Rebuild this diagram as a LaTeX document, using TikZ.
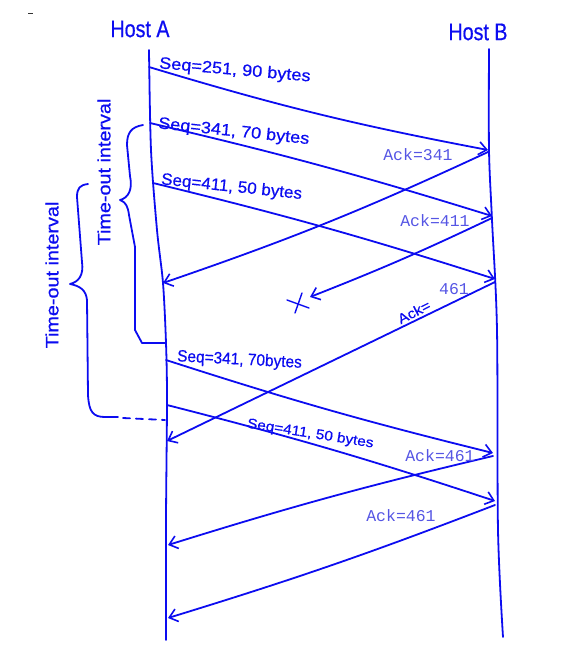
\documentclass[tikz,border=0pt]{standalone}
\usepackage{fontspec}
\usetikzlibrary{arrows.meta}
\newfontfamily\handH[FakeStretch=0.82,FakeBold=0.6]{Liberation Sans}
\newfontfamily\handS[FakeStretch=1.1,FakeBold=0.6]{Liberation Sans}
\newfontfamily\ackmono{Liberation Mono}
\definecolor{handblue}{RGB}{12,12,240}
\definecolor{ackblue}{RGB}{85,85,228}
\tikzset{
  pen/.style={draw=handblue, line width=1.8pt, line cap=round, line join=round},
  msg/.style={pen, -{Straight Barb[length=8pt,width=13pt,line width=1.6pt]}},
  hostlbl/.style={text=handblue, font=\handH\fontsize{24}{26}\selectfont, inner sep=0pt},
  seqlbl/.style={text=handblue, font=\handS\fontsize{16.5}{18}\selectfont, inner sep=0pt},
  smallseq/.style={text=handblue, font=\handS\fontsize{14}{15}\selectfont, inner sep=0pt},
  acklbl/.style={text=ackblue, font=\ackmono\fontsize{16.5}{18}\selectfont, inner sep=0pt},
  toutlbl/.style={text=handblue, font=\handS\fontsize{18}{19}\selectfont, inner sep=0pt, rotate=90}
}
\begin{document}
\begin{tikzpicture}[x=1pt,y=-1pt]
\useasboundingbox (0,0) rectangle (574,646);
% stray mark
\draw[black!80, line width=0.8pt] (28,13) -- (33,13);
% hosts
\node[hostlbl] (hostA) at (140,29) {Host A};
\node[hostlbl] (hostB) at (478,32) {Host B};
% lifeline points
\coordinate (aTop) at (149,50);
\coordinate (aBot) at (166,640);
\coordinate (bTop) at (489,49);
\coordinate (bBot) at (503,637);
\draw[pen] plot[smooth] coordinates {(aTop) (151,150) (157,230) (163,283) (166,343) (167,400) (166,520) (aBot)};
\draw[pen] plot[smooth] coordinates {(bTop) (489,150) (492,220) (497,330) (498,530) (bBot)};
% message end points
\coordinate (s1a) at (149,67);  \coordinate (s1b) at (488,150);
\coordinate (s2a) at (150,123); \coordinate (s2b) at (492,216);
\coordinate (s3a) at (153,183); \coordinate (s3b) at (495,279);
\coordinate (k1b) at (488,152); \coordinate (k1a) at (163,283);
\coordinate (k2b) at (492,218); \coordinate (k2e) at (310,297);
\coordinate (k3b) at (495,282); \coordinate (k3a) at (167,441);
\coordinate (r1a) at (166,360); \coordinate (r1b) at (493,453);
\coordinate (r2a) at (167,405); \coordinate (r2b) at (495,501);
\coordinate (k4b) at (493,456); \coordinate (k4a) at (168,545);
\coordinate (k5b) at (495,505); \coordinate (k5a) at (168,618);
% messages
\draw[msg] (s1a) to[bend right=3] (s1b);
\draw[msg] (s2a) to[bend left=2] (s2b);
\draw[msg] (s3a) to[bend left=2] (s3b);
\draw[msg] (k1b) to[bend left=3] (k1a);
\draw[msg] (k2b) to[bend left=2] (k2e);
\draw[msg] (k3b) -- (k3a);
\draw[msg] (r1a) to[bend right=2] (r1b);
\draw[msg] (r2a) to[bend left=2] (r2b);
\draw[msg] (k4b) to[bend right=2] (k4a);
\draw[msg] (k5b) to[bend left=2] (k5a);
% lost ack cross
\coordinate (x1) at (287,300); \coordinate (x2) at (309,308);
\coordinate (x3) at (302,293); \coordinate (x4) at (295,313);
\draw[pen, line width=1.4pt] (x1) -- (x2);
\draw[pen, line width=1.4pt] (x3) -- (x4);
% labels
\node[seqlbl, anchor=west, rotate=-5] (l1) at (159,64) {Seq=251, 90 bytes};
\node[seqlbl, anchor=west, rotate=-6] (l2) at (158,124) {Seq=341, 70 bytes};
\node[seqlbl, anchor=west, rotate=-6] (l3) at (161,180) {\scalebox{0.94}[1]{Seq=411, 50 bytes}};
\node[seqlbl, anchor=west, rotate=-3] (l4) at (177,357) {\scalebox{0.85}[1]{Seq=341, 70bytes}};
\node[smallseq, anchor=west, rotate=-9] (l5) at (247,424) {Seq=411, 50 bytes};
\node[acklbl] (a1) at (418,155) {Ack=341};
\node[acklbl] (a2) at (435,221) {Ack=411};
\node[smallseq, rotate=27] (a3) at (414,312) {Ack=};
\node[acklbl] (a3n) at (454,289) {461};
\node[acklbl] (a4) at (440,456) {Ack=461};
\node[acklbl] (a5) at (401,516) {Ack=461};
% inner time-out brace
\coordinate (ib1) at (143,125);
\coordinate (ibtip) at (120,200);
\coordinate (ib2) at (166,343);
\draw[pen] (ib1) .. controls (131,127) and (127,133) .. (127,145) -- (130,176)
  .. controls (133,190) and (128,198) .. (ibtip)
  .. controls (126,202) and (128,207) .. (129,215) -- (135,247) -- (135,330) -- (142,343) -- (ib2);
\node[toutlbl] (t1) at (104,172) {Time-out interval};
% outer time-out brace
\coordinate (ob1) at (88,184);
\coordinate (obtip) at (70,284);
\coordinate (ob2) at (118,417);
\coordinate (ob3) at (165,420);
\draw[pen] (ob1) .. controls (80,185) and (77,188) .. (77,197) -- (82,262)
  .. controls (84,276) and (78,282) .. (obtip)
  .. controls (80,286) and (86,290) .. (87,300) -- (88,395)
  .. controls (89,412) and (93,417) .. (105,417) -- (ob2);
\draw[pen, dash pattern=on 7pt off 6pt] (ob2) ++(5,1) -- (ob3);
\node[toutlbl] (t2) at (52,275) {Time-out interval};
\end{tikzpicture}
\end{document}
